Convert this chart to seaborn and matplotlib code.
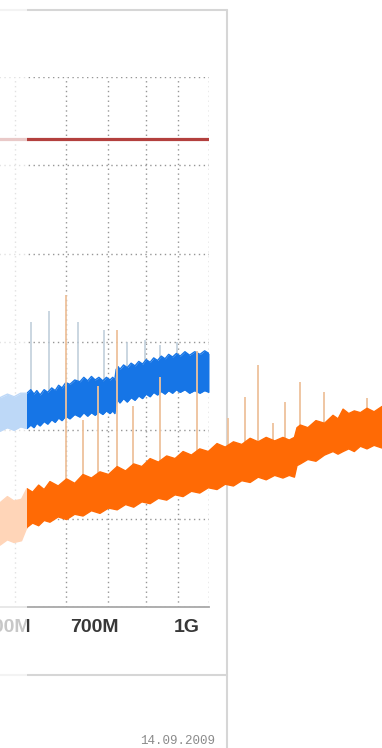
import numpy as np
import matplotlib
matplotlib.use("Agg")
import matplotlib.pyplot as plt
from matplotlib.patches import Rectangle
from matplotlib.lines import Line2D
from matplotlib.ticker import NullFormatter
import seaborn as sns

# frequency in MHz, level in dBuV (no y labels visible in the photo)
blue_freq = [419, 440, 460, 475, 488, 502, 515, 528, 541, 549, 556, 562, 569, 578, 586, 595, 603, 611,
             619, 628, 638, 650, 663, 673, 683, 693, 703, 713, 724, 734, 744, 752, 758, 762, 768, 773,
             784, 795, 807, 819, 831, 843, 855, 868, 880, 893, 906, 919, 932, 946, 960, 974, 992, 1010,
             1030, 1051, 1070, 1088]
blue_top = [23.5, 23.9, 23.6, 24.0, 23.7, 24.1, 23.8, 24.2, 24.2, 24.6, 24.1, 24.5, 24.0, 24.6, 24.3,
            24.8, 24.5, 25.1, 24.8, 25.4, 25.2, 25.7, 25.5, 26.0, 25.6, 26.1, 25.7, 26.0, 25.6, 26.0,
            25.7, 26.0, 25.7, 26.9, 27.2, 26.9, 27.4, 27.1, 27.6, 27.3, 27.8, 27.5, 28.0, 27.7, 28.2,
            27.9, 28.4, 28.1, 28.6, 28.3, 28.7, 28.4, 28.9, 28.5, 28.9, 28.6, 29.0, 28.7]
blue_bot = [19.7, 20.1, 19.8, 20.2, 19.9, 20.3, 20.0, 20.4, 20.2, 20.6, 20.3, 20.8, 20.5, 21.0, 20.7,
            21.2, 20.9, 21.4, 21.1, 21.6, 21.3, 21.8, 21.5, 22.0, 21.6, 22.0, 21.7, 22.1, 21.8, 22.2,
            21.9, 22.2, 21.9, 23.0, 23.4, 23.1, 23.6, 23.2, 23.7, 23.4, 23.9, 23.6, 24.1, 23.8, 24.3,
            24.0, 24.4, 24.1, 24.5, 24.2, 24.6, 24.3, 24.6, 24.2, 24.5, 24.2, 24.5, 24.3]

orange_freq = [419, 440, 460, 475, 488, 502, 515, 530, 541, 553, 566, 578, 591, 610, 630, 650, 671,
               693, 716, 740, 765, 790, 815, 841, 868, 896, 925, 955, 985, 1017, 1050, 1085, 1122,
               1158, 1195, 1234, 1274, 1314, 1355, 1400, 1445, 1480, 1510, 1525, 1545, 1590, 1640,
               1695, 1751, 1785, 1820, 1860, 1900, 1945, 1995, 2050, 2113, 2170, 2230]
orange_top = [11.5, 12.1, 11.6, 12.3, 11.8, 12.5, 12.0, 12.2, 13.4, 13.0, 13.8, 13.3, 14.2, 13.7, 14.5,
              14.0, 15.0, 14.6, 15.3, 15.0, 15.9, 15.4, 16.2, 15.9, 16.8, 16.4, 17.1, 16.8, 17.6, 17.2,
              17.9, 17.6, 18.5, 18.1, 18.7, 18.4, 19.1, 18.7, 19.2, 18.8, 19.2, 18.9, 19.2, 20.3, 20.6,
              20.3, 21.1, 20.8, 21.7, 21.3, 22.4, 21.9, 22.2, 22.0, 22.5, 22.1, 22.7, 22.4, 22.6]
orange_bot = [6.6, 7.2, 6.9, 7.4, 7.0, 7.6, 7.3, 7.5, 9.0, 9.5, 9.2, 9.8, 9.6, 10.2, 9.9, 10.5, 10.3,
              10.9, 10.6, 11.2, 11.0, 11.6, 11.3, 11.9, 11.7, 12.3, 12.1, 12.7, 12.5, 13.1, 12.9, 13.5,
              13.3, 13.9, 13.7, 14.3, 14.1, 14.7, 14.4, 14.9, 14.6, 14.9, 14.7, 16.0, 16.2, 16.7, 16.5,
              17.2, 17.6, 17.3, 17.6, 17.9, 17.6, 18.2, 17.9, 18.3, 18.0, 18.3, 18.1]

blue_spike_freq = [549.5, 588.8, 658.2, 727, 794, 851, 902, 962]
blue_spike_top = [32.3, 33.5, 32.3, 31.4, 30.0, 30.2, 29.7, 30.0]

orange_spike_freq = [628, 671, 711, 765, 813, 902, 1039, 1170, 1249, 1313, 1391, 1457, 1542, 1692, 1995]
orange_spike_top = [35.3, 21.2, 25.0, 31.4, 22.7, 26.0, 29.0, 21.4, 23.8, 27.4, 20.8, 23.2, 25.5, 24.3, 23.7]

limit_level = 53
tick_freq = [500, 700, 1000]
tick_labels = ["500M", "700M", "1G"]
grid_freq = [517, 629, 739, 855, 966, 1087]
date_text = "14.09.2009"

BLUE = "#1675e6"
ORANGE = "#ff6a05"
BLUE_SPIKE = "#bccbd8"
ORANGE_SPIKE = "#eec29c"
RED = "#b3403e"

sns.set_style("white")
plt.rcParams["font.family"] = ["Liberation Sans", "DejaVu Sans"]

fig = plt.figure(figsize=(3.82, 7.48), dpi=100)
# the plot runs off the left edge of the photo
ax = fig.add_axes([-40 / 382, 141 / 748, 249 / 382, 530 / 748])
ax.set_xscale("log")
ax.set_xlim(418.5, 1088)
ax.set_ylim(0, 60)

# spikes start inside the band they belong to
blue_base = np.interp(blue_spike_freq, blue_freq, blue_top) - 1
ax.vlines(blue_spike_freq, blue_base, blue_spike_top, color=BLUE_SPIKE, lw=1.1, zorder=2)

ax.fill_between(blue_freq, blue_bot, blue_top, color=BLUE, lw=0, zorder=3)
for arr in (blue_top, blue_bot):
    sns.lineplot(x=blue_freq, y=arr, ax=ax, color=BLUE, lw=1.0, estimator=None, sort=False, zorder=3)

# orange trace continues past the frame of the screen
orange_base = np.interp(orange_spike_freq, orange_freq, orange_top) - 1
sp = ax.vlines(orange_spike_freq, orange_base, orange_spike_top, color=ORANGE_SPIKE, lw=1.3, zorder=4)
sp.set_clip_on(False)
band = ax.fill_between(orange_freq, orange_bot, orange_top, color=ORANGE, lw=0, zorder=5)
band.set_clip_on(False)
for arr in (orange_top, orange_bot):
    sns.lineplot(x=orange_freq, y=arr, ax=ax, color=ORANGE, lw=1.0, estimator=None, sort=False, zorder=5)
for ln in ax.lines[-2:]:
    ln.set_clip_on(False)

ax.axhline(limit_level, color=RED, lw=2.3, zorder=6)

ax.set_yticks(range(0, 61, 10))
ax.set_yticklabels([])
ax.set_xticks(tick_freq, labels=tick_labels)
ax.set_xticks(grid_freq, minor=True)
ax.xaxis.set_minor_formatter(NullFormatter())
ax.tick_params(which="both", length=0)
ax.tick_params(axis="x", which="major", pad=9, labelsize=14, labelcolor="#383838")
for lab in ax.get_xticklabels():
    lab.set_fontweight("bold")
dots = (0, (1, 2.5))
ax.yaxis.grid(True, ls=dots, color="#969696", lw=1.0)
ax.xaxis.grid(True, which="minor", ls=dots, color="#969696", lw=1.0)
ax.xaxis.grid(False, which="major")
for s in ["top", "right", "left"]:
    ax.spines[s].set_visible(False)
ax.spines["bottom"].set_color("#a8a8a8")
ax.spines["bottom"].set_linewidth(1.3)

# screen panel frame
fc = "#d6d6d6"
fig.add_artist(Line2D([0, 227 / 382], [1 - 10 / 748] * 2, color=fc, lw=1.5, zorder=-1))
fig.add_artist(Line2D([0, 227 / 382], [1 - 675 / 748] * 2, color=fc, lw=1.5, zorder=-1))
fig.add_artist(Line2D([227 / 382] * 2, [0, 1 - 10 / 748], color=fc, lw=1.5, zorder=-1))

fig.text(177.5 / 382, 1 - 741 / 748, date_text, ha="center", va="center",
         fontsize=9, color="#8a8a8a", family=["Liberation Mono", "DejaVu Sans Mono"])

# washed out strip on the left of the photo
fig.add_artist(Rectangle((0, 0), 27 / 382, 1, transform=fig.transFigure,
                         facecolor="white", alpha=0.72, lw=0, zorder=10))

fig.savefig("out.png", dpi=100)
